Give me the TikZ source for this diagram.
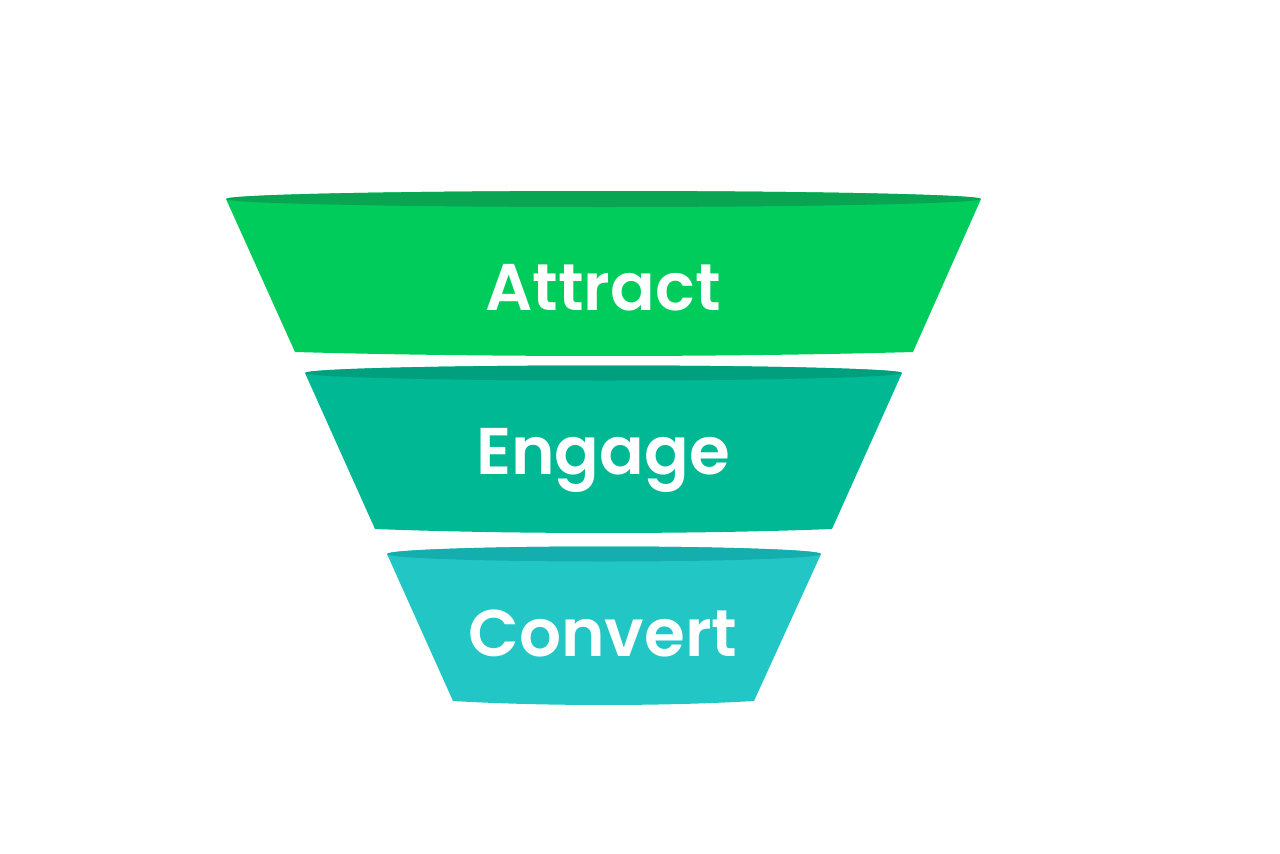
\documentclass[tikz,border=0pt]{standalone}
\usepackage{fontspec}
\newfontfamily\popfont{Poppins SemiBold}
\definecolor{bodyA}{HTML}{00CC5C}
\definecolor{rimA}{HTML}{0AA553}
\definecolor{bodyB}{HTML}{00B894}
\definecolor{rimB}{HTML}{009F7E}
\definecolor{bodyC}{HTML}{22C7C5}
\definecolor{rimC}{HTML}{13AEAD}
\tikzset{
  lbl/.style={text=white, font=\popfont\fontsize{49.5}{56}\selectfont, anchor=base, inner sep=0pt},
}
\begin{document}
\begin{tikzpicture}[x=0.75pt,y=-0.75pt]
\useasboundingbox (0,0) rectangle (1280,853);
% band 1
\path[fill=bodyA] (226,199) arc[start angle=180, end angle=360, x radius=377.5, y radius=8]
  -- (913,352) .. controls (727,357.3) and (481,357.3) .. (295,352) -- cycle;
\fill[rimA] (603.5,199) ellipse[x radius=377.5, y radius=8];
% band 2
\path[fill=bodyB] (305,373) arc[start angle=180, end angle=360, x radius=298.5, y radius=7.5]
  -- (832,529) .. controls (695,534.3) and (512,534.3) .. (375,529) -- cycle;
\fill[rimB] (603.5,373) ellipse[x radius=298.5, y radius=7.5];
% band 3
\path[fill=bodyC] (387,554) arc[start angle=180, end angle=360, x radius=217, y radius=7.5]
  -- (754,701) .. controls (664,706.3) and (543,706.3) .. (453,701) -- cycle;
\fill[rimC] (604,554) ellipse[x radius=217, y radius=7.5];
\node[lbl] (attract) at (603,310) {Attract};
\node[lbl] (engage) at (603,474) {Engage};
\node[lbl] (convert) at (603,656) {Convert};
\end{tikzpicture}
\end{document}
